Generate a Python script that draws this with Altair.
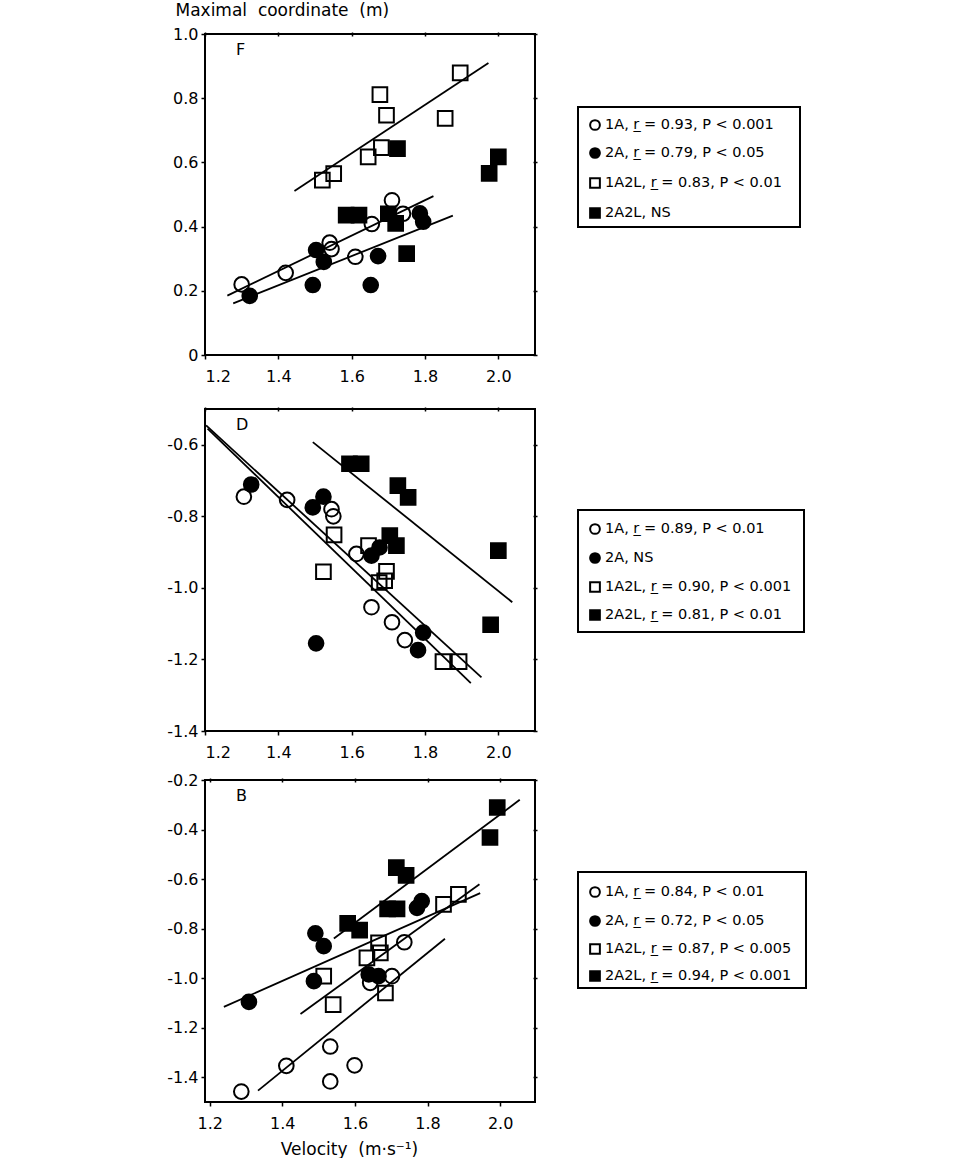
import altair as alt
import pandas as pd

FONT = "DejaVu Sans"
GROUPS = ["1A", "2A", "1A2L", "2A2L"]
DRAW_ORDER = ["1A", "1A2L", "2A", "2A2L"]  # open markers first, filled on top
SHAPES = ["circle", "circle", "square", "square"]
FILLS = ["transparent", "black", "transparent", "black"]

# ---------------- Panel F ----------------
F_1A_x = [1.30, 1.42, 1.54, 1.545, 1.61, 1.655, 1.71, 1.74]
F_1A_y = [0.22, 0.256, 0.35, 0.33, 0.306, 0.408, 0.482, 0.44]
F_2A_x = [1.322, 1.494, 1.503, 1.524, 1.652, 1.672, 1.786, 1.795]
F_2A_y = [0.184, 0.218, 0.327, 0.29, 0.218, 0.308, 0.441, 0.415]
F_1A2L_x = [1.52, 1.551, 1.645, 1.677, 1.681, 1.695, 1.855, 1.896]
F_1A2L_y = [0.545, 0.565, 0.617, 0.811, 0.646, 0.747, 0.737, 0.879]
F_2A2L_x = [1.585, 1.62, 1.70, 1.72, 1.725, 1.75, 1.975, 2.0]
F_2A2L_y = [0.436, 0.436, 0.44, 0.41, 0.643, 0.316, 0.566, 0.617]
F_lines = {"1A": ([1.261, 1.823], [0.185, 0.495]),
           "2A": ([1.277, 1.876], [0.161, 0.434]),
           "1A2L": ([1.444, 1.973], [0.511, 0.910])}
F_labels = ["1A, r\u0332 = 0.93, P < 0.001", "2A, r\u0332 = 0.79, P < 0.05",
            "1A2L, r\u0332 = 0.83, P < 0.01", "2A2L, NS"]

# ---------------- Panel D ----------------
D_1A_x = [1.306, 1.424, 1.545, 1.55, 1.613, 1.654, 1.71, 1.745]
D_1A_y = [-0.745, -0.754, -0.78, -0.80, -0.905, -1.054, -1.096, -1.146]
D_2A_x = [1.326, 1.494, 1.523, 1.503, 1.654, 1.676, 1.795, 1.781]
D_2A_y = [-0.711, -0.775, -0.745, -1.155, -0.91, -0.887, -1.125, -1.174]
D_1A2L_x = [1.552, 1.523, 1.646, 1.695, 1.675, 1.69, 1.849, 1.893]
D_1A2L_y = [-0.852, -0.955, -0.882, -0.954, -0.985, -0.98, -1.206, -1.206]
D_2A2L_x = [1.594, 1.626, 1.726, 1.754, 1.704, 1.722, 2.0, 1.979]
D_2A2L_y = [-0.653, -0.653, -0.714, -0.747, -0.854, -0.882, -0.896, -1.103]
D_lines = {"1A": ([1.207, 1.925], [-0.555, -1.266]),
           "1A2L": ([1.203, 1.954], [-0.546, -1.25]),
           "2A2L": ([1.494, 2.038], [-0.5925, -1.04])}
D_labels = ["1A, r\u0332 = 0.89, P < 0.01", "2A, NS",
            "1A2L, r\u0332 = 0.90, P < 0.001", "2A2L, r\u0332 = 0.81, P < 0.01"]

# ---------------- Panel B ----------------
B_1A_x = [1.287, 1.411, 1.532, 1.532, 1.599, 1.642, 1.702, 1.736]
B_1A_y = [-1.458, -1.354, -1.276, -1.417, -1.352, -1.019, -0.992, -0.855]
B_2A_x = [1.308, 1.487, 1.491, 1.514, 1.638, 1.665, 1.771, 1.784]
B_2A_y = [-1.096, -1.012, -0.819, -0.871, -0.985, -0.992, -0.716, -0.689]
B_1A2L_x = [1.514, 1.54, 1.633, 1.665, 1.67, 1.684, 1.844, 1.885]
B_1A2L_y = [-0.992, -1.107, -0.918, -0.857, -0.898, -1.06, -0.702, -0.662]
B_2A2L_x = [1.58, 1.613, 1.69, 1.716, 1.714, 1.741, 1.972, 1.992]
B_2A2L_y = [-0.779, -0.806, -0.72, -0.72, -0.554, -0.585, -0.432, -0.311]
B_lines = {"1A": ([1.333, 1.848], [-1.454, -0.841]),
           "2A": ([1.239, 1.945], [-1.116, -0.657]),
           "1A2L": ([1.45, 1.943], [-1.145, -0.621]),
           "2A2L": ([1.542, 2.054], [-0.84, -0.28])}
B_labels = ["1A, r\u0332 = 0.84, P < 0.01", "2A, r\u0332 = 0.72, P < 0.05",
            "1A2L, r\u0332 = 0.87, P < 0.005", "2A2L, r\u0332 = 0.94, P < 0.001"]

X_TICKS = [1.2, 1.4, 1.6, 1.8, 2.0]
LABEL_EXPR = ("datum.value == 0 ? '0' : (datum.value < 0 ? '-' + format(-datum.value, '.1f')"
              " : format(datum.value, '.1f'))")


def legend_layers(labels, box_top, box_bottom, row_ys, box_w):
    layers = [
        alt.Chart(pd.DataFrame({"k": [0]})).mark_rect(
            fill="transparent", stroke="black", strokeWidth=2
        ).encode(x=alt.value(373), x2=alt.value(373 + box_w),
                 y=alt.value(box_top), y2=alt.value(box_bottom))
    ]
    for i, lab in enumerate(labels):
        layers.append(
            alt.Chart(pd.DataFrame({"k": [i]})).mark_point(
                shape=SHAPES[i], fill=FILLS[i], stroke="black", strokeWidth=2,
                size=95, opacity=1
            ).encode(x=alt.value(390), y=alt.value(row_ys[i]))
        )
        layers.append(
            alt.Chart(pd.DataFrame({"t": [lab]})).mark_text(
                font=FONT, fontSize=14.5, align="left", baseline="middle", color="black"
            ).encode(text="t:N", x=alt.value(400), y=alt.value(row_ys[i]))
        )
    return layers


def panel(pts, lines, labels, xdom, ydom, yticks, letter, leg, height,
          ytitle=None, xtitle=None):
    rows = []
    for g in DRAW_ORDER:
        xs, ys = pts[g]
        for x, y in zip(xs, ys):
            rows.append({"v": x, "c": y, "g": g})
    df = pd.DataFrame(rows)

    lrows = []
    for g, (xs, ys) in lines.items():
        for x, y in zip(xs, ys):
            lrows.append({"v": x, "c": y, "g": g})
    ldf = pd.DataFrame(lrows)

    xs = alt.Scale(domain=xdom, nice=False, zero=False)
    ys = alt.Scale(domain=ydom, nice=False, zero=False)

    xaxis_kw = dict(orient="bottom", values=X_TICKS, labelExpr=LABEL_EXPR, grid=False,
                    domain=False, tickSize=4, labelPadding=9)
    if xtitle:
        xaxis_kw.update(title=xtitle, titleX=144, titleY=52, titleAlign="center",
                        titleBaseline="alphabetic", titleFontSize=17,
                        titleFontWeight="normal", titleFont=FONT)
    else:
        xaxis_kw.update(title=None)
    yaxis_kw = dict(orient="left", values=yticks, labelExpr=LABEL_EXPR, grid=False,
                    domain=False, tickSize=4, labelPadding=3)
    if ytitle:
        yaxis_kw.update(title=ytitle, titleAngle=0, titleX=-30, titleY=-19,
                        titleAlign="left", titleBaseline="alphabetic", titleFontSize=17,
                        titleFontWeight="normal", titleFont=FONT)
    else:
        yaxis_kw.update(title=None)

    lines_layer = alt.Chart(ldf).mark_line(color="black", strokeWidth=1.8).encode(
        x=alt.X("v:Q", scale=xs, axis=alt.Axis(**xaxis_kw)),
        y=alt.Y("c:Q", scale=ys, axis=alt.Axis(**yaxis_kw)),
        detail="g:N",
    )
    pts_layer = alt.Chart(df).mark_point(strokeWidth=2, opacity=1, stroke="black").encode(
        x=alt.X("v:Q", scale=xs, axis=None),
        y=alt.Y("c:Q", scale=ys, axis=None),
        shape=alt.Shape("g:N", scale=alt.Scale(domain=GROUPS, range=SHAPES), legend=None),
        fill=alt.Fill("g:N", scale=alt.Scale(domain=GROUPS, range=FILLS), legend=None),
        size=alt.Size("g:N", scale=alt.Scale(domain=GROUPS, range=[215, 215, 250, 250]),
                      legend=None),
    )
    mirror = alt.Chart(df).mark_point(opacity=0).encode(
        x=alt.X("v:Q", scale=xs, axis=alt.Axis(orient="top", values=X_TICKS, labels=False,
                                               grid=False, domain=False, ticks=True,
                                               tickSize=4, offset=-2, title=None)),
        y=alt.Y("c:Q", scale=ys, axis=alt.Axis(orient="right", values=yticks, labels=False,
                                               grid=False, domain=False, ticks=True,
                                               tickSize=4, offset=-2, title=None)),
    )
    letter_layer = alt.Chart(pd.DataFrame({"t": [letter]})).mark_text(
        font=FONT, fontSize=16, align="left", baseline="top", color="black"
    ).encode(text="t:N", x=alt.value(31), y=alt.value(8))

    return alt.layer(lines_layer, pts_layer, mirror, letter_layer,
                     *legend_layers(labels, *leg)).resolve_axis(
        x="independent", y="independent"
    ).properties(width=330, height=height)


F = panel({"1A": (F_1A_x, F_1A_y), "2A": (F_2A_x, F_2A_y),
           "1A2L": (F_1A2L_x, F_1A2L_y), "2A2L": (F_2A2L_x, F_2A2L_y)},
          F_lines, F_labels, [1.2, 2.1], [0, 1.0], [0, 0.2, 0.4, 0.6, 0.8, 1.0],
          "F", (73, 193, [91, 119, 149, 179], 222), 321,
          ytitle="Maximal\u00a0\u00a0coordinate\u00a0\u00a0(m)")
D = panel({"1A": (D_1A_x, D_1A_y), "2A": (D_2A_x, D_2A_y),
           "1A2L": (D_1A2L_x, D_1A2L_y), "2A2L": (D_2A2L_x, D_2A2L_y)},
          D_lines, D_labels, [1.2, 2.1], [-1.4, -0.5], [-1.4, -1.2, -1.0, -0.8, -0.6],
          "D", (101, 223, [120, 149, 178, 206], 226), 322)
B = panel({"1A": (B_1A_x, B_1A_y), "2A": (B_2A_x, B_2A_y),
           "1A2L": (B_1A2L_x, B_1A2L_y), "2A2L": (B_2A2L_x, B_2A2L_y)},
          B_lines, B_labels, [1.187, 2.096], [-1.5, -0.2],
          [-1.4, -1.2, -1.0, -0.8, -0.6, -0.4, -0.2],
          "B", (92, 208, [112, 141, 169, 196], 228), 322,
          xtitle="Velocity\u00a0\u00a0(m\u00b7s\u207b\u00b9)")

chart = alt.vconcat(alt.vconcat(F, D, spacing=20), B, spacing=10).properties(
    padding={"left": 165, "top": 0, "right": 5, "bottom": 0},
    background="white",
).configure_view(
    stroke="black", strokeWidth=2
).configure_axis(
    labelFont=FONT, labelFontSize=16, labelColor="black", tickColor="black",
    tickWidth=1.5, titleColor="black"
)

chart.save("out.html", embed_options={"renderer": "svg", "actions": False})
